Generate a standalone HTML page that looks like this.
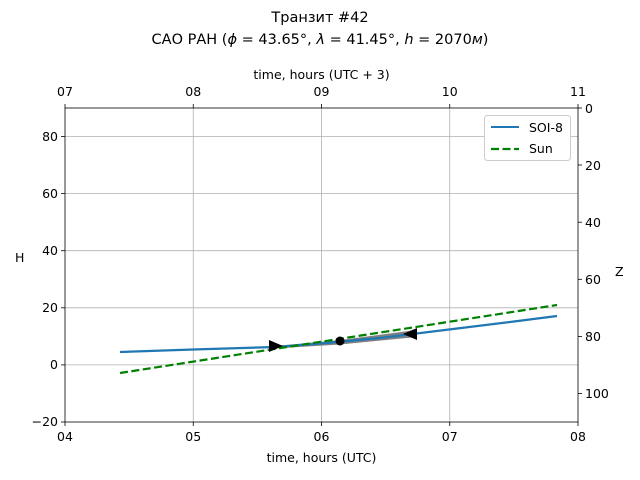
<!DOCTYPE html>
<html><head><style>body{margin:0;background:#fff}svg{display:block}text{font-family:"DejaVu Sans","Liberation Sans",sans-serif;fill:#000}</style></head><body>
<svg width="640" height="480" xmlns="http://www.w3.org/2000/svg">
<text x="320" y="22" font-size="14.5" text-anchor="middle">Транзит #42</text>
<text x="320" y="44" font-size="14.5" text-anchor="middle">САО РАН (<tspan font-style="italic">ϕ</tspan> = 43.65°, <tspan font-style="italic">λ</tspan> = 41.45°, <tspan font-style="italic">h</tspan> = 2070<tspan font-style="italic">м</tspan>)</text>
<g stroke="#b0b0b0" stroke-width="0.8">
<line x1="193.25" y1="108" x2="193.25" y2="422"/><line x1="321.5" y1="108" x2="321.5" y2="422"/><line x1="449.75" y1="108" x2="449.75" y2="422"/>
<line x1="65" y1="136.5" x2="578" y2="136.5"/><line x1="65" y1="193.6" x2="578" y2="193.6"/><line x1="65" y1="250.7" x2="578" y2="250.7"/><line x1="65" y1="307.8" x2="578" y2="307.8"/><line x1="65" y1="364.9" x2="578" y2="364.9"/>
</g>
<polygon points="275,346 340,340 412,330.5 412,337.5 340,344.5 275,348.5" fill="#808080"/>
<polyline points="120,352 193,349.5 275,347 321,343.5 380,338 449,329.5 510,322 557,316" fill="none" stroke="#1f77b4" stroke-width="2.2"/>
<line x1="120" y1="373" x2="557" y2="305" stroke="#008000" stroke-width="2.2" stroke-dasharray="8,3.5"/>
<circle cx="340" cy="341" r="4.5" fill="#000"/>
<polygon points="269,340 283,346 269,352" fill="#000"/>
<polygon points="417,328 403,334 417,340" fill="#000"/>
<rect x="65" y="108" width="513" height="314" fill="none" stroke="#000" stroke-width="0.8"/>
<g stroke="#000" stroke-width="0.8">
<line x1="65" y1="422" x2="65" y2="426"/><line x1="193.25" y1="422" x2="193.25" y2="426"/><line x1="321.5" y1="422" x2="321.5" y2="426"/><line x1="449.75" y1="422" x2="449.75" y2="426"/><line x1="578" y1="422" x2="578" y2="426"/>
<line x1="65" y1="108" x2="65" y2="104"/><line x1="193.25" y1="108" x2="193.25" y2="104"/><line x1="321.5" y1="108" x2="321.5" y2="104"/><line x1="449.75" y1="108" x2="449.75" y2="104"/><line x1="578" y1="108" x2="578" y2="104"/>
<line x1="61" y1="136.5" x2="65" y2="136.5"/><line x1="61" y1="193.6" x2="65" y2="193.6"/><line x1="61" y1="250.7" x2="65" y2="250.7"/><line x1="61" y1="307.8" x2="65" y2="307.8"/><line x1="61" y1="364.9" x2="65" y2="364.9"/><line x1="61" y1="422" x2="65" y2="422"/>
<line x1="578" y1="108" x2="582" y2="108"/><line x1="578" y1="165" x2="582" y2="165"/><line x1="578" y1="222.2" x2="582" y2="222.2"/><line x1="578" y1="279.3" x2="582" y2="279.3"/><line x1="578" y1="336.4" x2="582" y2="336.4"/><line x1="578" y1="393.5" x2="582" y2="393.5"/>
</g>
<g font-size="12.5" text-anchor="middle">
<text x="65" y="441">04</text><text x="193.25" y="441">05</text><text x="321.5" y="441">06</text><text x="449.75" y="441">07</text><text x="578" y="441">08</text>
<text x="65" y="96">07</text><text x="193.25" y="96">08</text><text x="321.5" y="96">09</text><text x="449.75" y="96">10</text><text x="578" y="96">11</text>
<text x="321.5" y="462">time, hours (UTC)</text>
<text x="321.5" y="79">time, hours (UTC + 3)</text>
</g>
<g font-size="12.5" text-anchor="end">
<text x="58" y="141">80</text><text x="58" y="198">60</text><text x="58" y="255">40</text><text x="58" y="312">20</text><text x="58" y="369">0</text><text x="58" y="426">−20</text>
</g>
<g font-size="12.5">
<text x="585" y="113">0</text><text x="585" y="170">20</text><text x="585" y="227">40</text><text x="585" y="284">60</text><text x="585" y="341">80</text><text x="585" y="398">100</text>
<text x="15" y="262">H</text><text x="615" y="276">Z</text>
</g>
<rect x="484.5" y="115.5" width="86" height="45" rx="3" fill="#fff" stroke="#ccc" stroke-width="1"/>
<line x1="491" y1="127" x2="519" y2="127" stroke="#1f77b4" stroke-width="2"/>
<line x1="491" y1="149" x2="519" y2="149" stroke="#008000" stroke-width="2.2" stroke-dasharray="8,3.5"/>
<text x="529" y="132" font-size="12.5">SOI-8</text>
<text x="529" y="153" font-size="12.5">Sun</text>
</svg>
</body></html>
